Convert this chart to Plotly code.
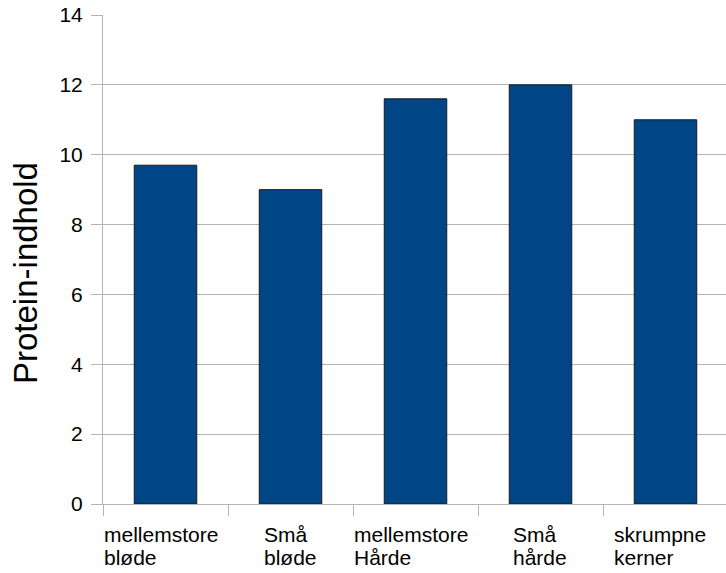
import plotly.graph_objects as go

categories_line1 = ["mellemstore", "Små", "mellemstore", "Små", "skrumpne"]
categories_line2 = ["bløde", "bløde", "Hårde", "hårde", "kerner"]
protein = [9.7, 9.0, 11.6, 12.0, 11.0]
y_ticks = [0, 2, 4, 6, 8, 10, 12, 14]

# horizontal offsets (px) of each label block's left edge from the category centre
label_shift = [-61.5, -26.5, -61.5, -27.5, -51.5]

GRID = "#b3b3b3"
FONT = "Liberation Sans, Arial, sans-serif"

xs = list(range(len(protein)))

fig = go.Figure()
fig.add_trace(go.Bar(
    x=xs, y=protein, width=0.5,
    marker=dict(color="#004586", line=dict(color="#1a1a1a", width=1)),
    showlegend=False, hoverinfo="skip",
))

W, H = 726, 573
L, T, B = 103, 15, 69
plot_w = W - L
cat_px = 125.0

annotations = []
for i, (a, b) in enumerate(zip(categories_line1, categories_line2)):
    for k, txt in enumerate((a, b)):
        annotations.append(dict(
            x=xs[i], xref="x", y=0, yref="paper",
            text=txt, showarrow=False, xanchor="left", yanchor="top",
            xshift=label_shift[i] - 2, yshift=-17 - 23 * k,
            font=dict(family=FONT, size=21, color="#000000"),
            align="left",
        ))

annotations.append(dict(
    text="Protein-indhold", textangle=-90, showarrow=False,
    xref="paper", yref="paper",
    x=(25 - L) / plot_w, y=(504 - 273) / (H - T - B),
    xanchor="center", yanchor="middle",
    font=dict(family=FONT, size=33, color="#000000"),
))

fig.update_layout(
    width=W, height=H,
    margin=dict(l=L, r=0, t=T, b=B, pad=0, autoexpand=False),
    paper_bgcolor="white", plot_bgcolor="white",
    font=dict(family=FONT, color="#000000"),
    xaxis=dict(
        range=[-0.5, -0.5 + plot_w / cat_px],
        tickmode="array",
        tickvals=[i - 0.5 for i in range(len(protein) + 1)],
        showticklabels=False,
        ticks="outside", ticklen=11, tickcolor=GRID, tickwidth=1,
        showgrid=False, zeroline=False, automargin=False,
        showline=True, linecolor=GRID, linewidth=1,
    ),
    yaxis=dict(
        range=[0, 14],
        tickmode="array", tickvals=y_ticks,
        ticks="outside", ticklen=11, tickcolor=GRID, tickwidth=1,
        tickfont=dict(family=FONT, size=21, color="#000000"),
        ticklabelstandoff=4, automargin=False,
        showgrid=True, gridcolor=GRID, gridwidth=1,
        zeroline=False,
        showline=True, linecolor=GRID, linewidth=1,
    ),
    annotations=annotations,
    bargap=0.5,
)

fig.write_html(
    "out.html",
    config={"displayModeBar": False},
    post_script="document.body.style.margin='0';document.body.style.overflow='hidden';",
)
